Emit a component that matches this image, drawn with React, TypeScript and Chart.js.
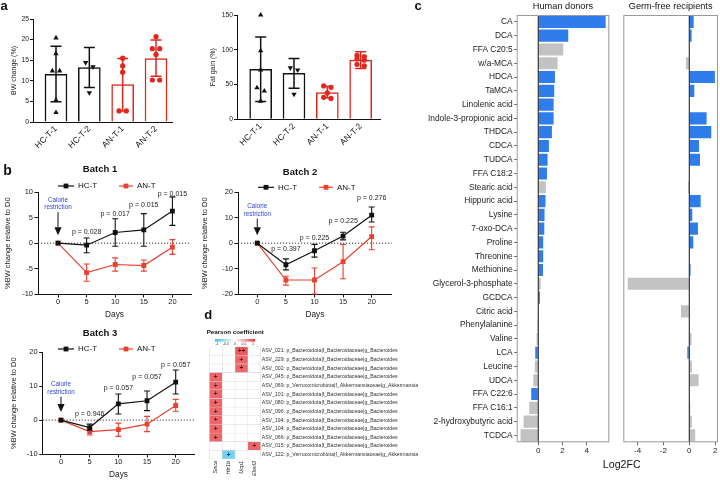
import React, { useEffect, useRef } from 'react';
import { Chart, registerables } from 'chart.js';

Chart.register(...registerables);

const FF = '"Liberation Sans", Arial, Helvetica, sans-serif';
Chart.defaults.font.family = FF;
Chart.defaults.color = '#222';

const BLACK = '#111111';
const RED_A = '#E2261C';
const RED_B = '#E8412F';
const BLUE_C = '#2E7DEB';
const GREY_C = '#C2C2C2';

// ---------------- Panel a data ----------------
const groupsA = ['HC-T-1', 'HC-T-2', 'AN-T-1', 'AN-T-2'];
const bwMean = [11.6, 13.2, 9.1, 15.4];
const bwSdLow = [4.9, 8.4, 2.7, 11.1];
const bwSdHigh = [18.4, 18.1, 15.4, 19.9];
const bwPtsHC1 = [20.4, 16.6, 12.4, 12.4, 5.3, 2.3];
const bwPtsHC2 = [14.4, 13.4, 7.1];
const bwPtsAN1 = [15.5, 13.6, 12.1, 2.7, 2.7];
const bwPtsAN2 = [20.7, 17.8, 17.8, 16.4, 10.2, 10.2];
const fatMean = [71.8, 66.0, 38.5, 85.0];
const fatSdLow = [25.5, 44.5, 31.0, 73.0];
const fatSdHigh = [118.5, 87.5, 47.5, 97.0];
const fatPtsHC1 = [150, 98.6, 71, 45.4, 40.7, 26];
const fatPtsHC2 = [74, 71, 36];
const fatPtsAN1 = [48, 46, 38, 31.6, 30];
const fatPtsAN2 = [92, 90, 87, 85, 79, 77];

// ---------------- Panel b data ----------------
const days = [0, 5, 10, 15, 20];
const pDays = [5, 10, 15, 20];
const b1HC = [0, -0.4, 2.1, 2.6, 6.3];
const b1HCLow = [0, -1.9, -0.6, -0.6, 3.5];
const b1HCHigh = [0, 1.0, 4.8, 5.8, 9.1];
const b1AN = [0, -5.8, -4.2, -4.4, -0.8];
const b1ANLow = [0, -7.5, -5.5, -5.5, -2.2];
const b1ANHigh = [0, -4.1, -2.9, -3.3, 0.7];
const b1PText = ['p = 0.028', 'p = 0.017', 'p = 0.015', 'p = 0.015'];
const b1PY = [2.2, 5.8, 7.5, 9.7];

const b2HC = [0, -8.5, -3.0, 2.8, 11.0];
const b2HCLow = [0, -10.5, -5.5, 1.3, 8.3];
const b2HCHigh = [0, -6.2, -0.5, 4.3, 14.2];
const b2AN = [0, -14.5, -14.5, -7.3, 2.6];
const b2ANLow = [0, -16.5, -20.0, -14.0, -2.6];
const b2ANHigh = [0, -13.0, -9.8, -0.5, 6.4];
const b2PText = ['p = 0.397', 'p = 0.225', 'p = 0.225', 'p = 0.276'];
const b2PY = [-2.5, 2.1, 8.7, 17.6];

const b3HC = [0, -2.2, 4.8, 5.7, 11.2];
const b3HCLow = [0, -3.0, 1.8, 2.8, 7.7];
const b3HCHigh = [0, -1.2, 7.7, 8.6, 14.8];
const b3AN = [0, -3.4, -2.8, -1.2, 4.3];
const b3ANLow = [0, -4.4, -4.8, -3.4, 2.6];
const b3ANHigh = [0, -2.4, -0.9, 1.1, 6.1];
const b3PText = ['p = 0.946', 'p = 0.057', 'p = 0.057', 'p = 0.057'];
const b3PY = [1.8, 9.4, 12.6, 16.3];

// ---------------- Panel c data ----------------
const metabolites = [
  'CA', 'DCA', 'FFA C20:5', 'w/a-MCA', 'HDCA', 'TaMCA', 'Linolenic acid',
  'Indole-3-propionic acid', 'THDCA', 'CDCA', 'TUDCA', 'FFA C18:2', 'Stearic acid',
  'Hippuric acid', 'Lysine', '7-oxo-DCA', 'Proline', 'Threonine', 'Methionine',
  'Glycerol-3-phosphate', 'GCDCA', 'Citric acid', 'Phenylalanine', 'Valine', 'LCA',
  'Leucine', 'UDCA', 'FFA C22:6', 'FFA C16:1', '2-hydroxybutyric acid', 'TCDCA',
];
const humanLog2FC = [
  5.57, 2.48, 2.07, 1.6, 1.38, 1.32, 1.27, 1.27, 1.13, 0.88, 0.77, 0.72, 0.63,
  0.6, 0.52, 0.5, 0.41, 0.41, 0.39, 0.2, 0.14, 0.02, -0.08, -0.14, -0.25,
  -0.28, -0.41, -0.58, -0.74, -1.21, -1.46,
];
const humanSig = [
  1, 1, 0, 0, 1, 1, 1, 1, 1, 1, 1, 1, 0, 1, 1, 1, 1, 1, 1, 0, 1, 0, 0, 0, 1,
  0, 0, 1, 0, 0, 0,
];
const germFreeLog2FC = [
  0.34, 0.18, 0.0, -0.26, 1.98, 0.39, 0.05, 1.34, 1.7, 0.75, 0.83, 0.02, -0.1,
  0.88, 0.23, 0.67, 0.31, 0.02, 0.1, -4.76, 0.02, -0.64, 0.05, 0.18, -0.15,
  0.2, 0.72, 0.03, 0.08, 0.2, 0.46,
];
const germFreeSig = [
  1, 1, 0, 0, 1, 1, 1, 1, 1, 1, 1, 0, 0, 1, 1, 1, 1, 0, 1, 0, 0, 0, 0, 0, 1,
  0, 0, 0, 0, 0, 0,
];

// ---------------- Panel d data ----------------
const genes = ['Snca', 'Htr1b', 'Ucp1', 'Elovl3'];
const asvLabels = [
  'ASV_021: p_Bacteroidota|f_Bacteroidaceae|g_Bacteroides',
  'ASV_229: p_Bacteroidota|f_Bacteroidaceae|g_Bacteroides',
  'ASV_002: p_Bacteroidota|f_Bacteroidaceae|g_Bacteroides',
  'ASV_045: p_Bacteroidota|f_Bacteroidaceae|g_Bacteroides',
  'ASV_069: p_Verrucomicrobiota|f_Akkermansiaceae|g_Akkermansia',
  'ASV_101: p_Bacteroidota|f_Bacteroidaceae|g_Bacteroides',
  'ASV_080: p_Bacteroidota|f_Bacteroidaceae|g_Bacteroides',
  'ASV_096: p_Bacteroidota|f_Bacteroidaceae|g_Bacteroides',
  'ASV_194: p_Bacteroidota|f_Bacteroidaceae|g_Bacteroides',
  'ASV_104: p_Bacteroidota|f_Bacteroidaceae|g_Bacteroides',
  'ASV_066: p_Bacteroidota|f_Bacteroidaceae|g_Bacteroides',
  'ASV_015: p_Bacteroidota|f_Bacteroidaceae|g_Bacteroides',
  'ASV_122: p_Verrucomicrobiota|f_Akkermansiaceae|g_Akkermansia',
];
const pearson = [
  [0, 0, 0.82, 0], [0, 0, 0.76, 0], [0, 0, 0.76, 0],
  [0.76, 0, 0, 0], [0.76, 0, 0, 0], [0.76, 0, 0, 0], [0.76, 0, 0, 0],
  [0.76, 0, 0, 0], [0.76, 0, 0, 0], [0.76, 0, 0, 0], [0.76, 0, 0, 0],
  [0, 0, 0, 0.76], [0, -0.7, 0, 0],
];
const signif = [
  ['', '', '++', ''], ['', '', '+', ''], ['', '', '+', ''],
  ['+', '', '', ''], ['+', '', '', ''], ['+', '', '', ''], ['+', '', '', ''],
  ['+', '', '', ''], ['+', '', '', ''], ['+', '', '', ''], ['+', '', '', ''],
  ['', '', '', '+'], ['', '+', '', ''],
];
const colorbarTicks = ['-1', '-0.5', '0', '0.5', '1'];

// ---------------- helpers ----------------
type TextItem = { text: string; x: number; y: number; font: string; color?: string; align?: CanvasTextAlign };

function textPlugin(items: TextItem[]) {
  return {
    id: 'extraText',
    afterDraw(chart: any) {
      const ctx = chart.ctx;
      items.forEach((it) => {
        ctx.save();
        ctx.font = it.font;
        ctx.fillStyle = it.color || '#111';
        ctx.textAlign = it.align || 'center';
        ctx.textBaseline = 'middle';
        ctx.fillText(it.text, it.x, it.y);
        ctx.restore();
      });
    },
  };
}

function drawErr(chart: any, index: number, meta: any) {
  const ds = chart.data.datasets[index];
  if (!ds.errLow) return;
  const y = chart.scales[meta.yAxisID];
  const ctx = chart.ctx;
  const cap = ds.errCap || 6;
  ctx.save();
  ctx.lineWidth = ds.errWidth || 1.1;
  meta.data.forEach((el: any, i: number) => {
    const lo = ds.errLow[i];
    const hi = ds.errHigh[i];
    if (lo === hi) return;
    const col = Array.isArray(ds.errColor) ? ds.errColor[i] : ds.errColor;
    ctx.strokeStyle = col;
    const x = el.x;
    const yl = y.getPixelForValue(lo);
    const yh = y.getPixelForValue(hi);
    ctx.beginPath();
    ctx.moveTo(x, yl); ctx.lineTo(x, yh);
    ctx.moveTo(x - cap / 2, yl); ctx.lineTo(x + cap / 2, yl);
    ctx.moveTo(x - cap / 2, yh); ctx.lineTo(x + cap / 2, yh);
    ctx.stroke();
  });
  ctx.restore();
}

const errorBars = {
  id: 'errorBars',
  beforeDatasetDraw(chart: any, args: any) {
    const ds = chart.data.datasets[args.index];
    if (ds.errLow && !ds.errOnTop) drawErr(chart, args.index, args.meta);
  },
  afterDatasetDraw(chart: any, args: any) {
    const ds = chart.data.datasets[args.index];
    if (ds.errLow && ds.errOnTop) drawErr(chart, args.index, args.meta);
  },
};

function jitterPairs(vals: number[], tol: number, step: number) {
  const idx = vals.map((_, i) => i).sort((a, b) => vals[b] - vals[a]);
  const off = vals.map(() => 0);
  for (let k = 0; k < idx.length; k++) {
    const a = idx[k];
    const b = idx[k + 1];
    if (b !== undefined && Math.abs(vals[a] - vals[b]) < tol) {
      off[a] = -step;
      off[b] = step;
      k++;
    }
  }
  return off;
}

function ChartCanvas({ left, top, width, height, make }: { left: number; top: number; width: number; height: number; make: () => any }) {
  const ref = useRef<HTMLCanvasElement>(null);
  useEffect(() => {
    const chart = new Chart(ref.current as HTMLCanvasElement, make());
    return () => chart.destroy();
  }, []);
  return (
    <canvas
      ref={ref}
      width={width}
      height={height}
      style={{ position: 'absolute', left, top, width, height }}
    />
  );
}

// ---------------- Panel a ----------------
function barPanel(o: any) {
  const colors = [BLACK, BLACK, RED_A, RED_A];
  const pts = [o.p1, o.p2, o.p3, o.p4];
  const ptSets = pts.map((arr: number[], g: number) => {
    const off = jitterPairs(arr, o.tol, 0.11);
    return {
      type: 'scatter',
      data: arr.map((v, i) => ({ x: g + off[i], y: v })),
      pointStyle: g < 2 ? 'triangle' : 'circle',
      pointRotation: g === 1 ? 180 : 0,
      pointRadius: g < 2 ? 3.1 : 2.6,
      backgroundColor: colors[g],
      borderColor: colors[g],
      borderWidth: 0,
      clip: false,
      order: 0,
    };
  });
  return {
    type: 'bar',
    data: {
      datasets: [
        ...ptSets,
        {
          type: 'bar',
          data: o.mean.map((m: number, g: number) => ({ x: g, y: m })),
          backgroundColor: '#ffffff',
          borderColor: colors,
          borderWidth: 1.5,
          barThickness: 22,
          errLow: o.lo,
          errHigh: o.hi,
          errColor: colors,
          errCap: 11,
          errWidth: 1.5,
          errOnTop: true,
          clip: false,
          order: 1,
        },
      ],
    },
    options: {
      animation: false,
      responsive: false,
      events: [],
      layout: { padding: { top: o.padTop, right: o.padRight, left: 0, bottom: 0 } },
      plugins: { legend: { display: false }, tooltip: { enabled: false } },
      scales: {
        x: {
          type: 'linear',
          offset: false,
          min: o.xMin,
          max: o.xMax,
          afterBuildTicks: (s: any) => { s.ticks = groupsA.map((_, i) => ({ value: i })); },
          afterFit: (s: any) => { s.height = o.xH; },
          ticks: {
            callback: (v: any) => groupsA[v] ?? '',
            minRotation: 45, maxRotation: 45, autoSkip: false,
            font: { size: 8.5 }, color: '#111', padding: 2,
          },
          grid: { display: false, drawTicks: false, offset: false },
          border: { display: true, color: BLACK, width: 1 },
        },
        y: {
          min: 0,
          max: o.yMax,
          afterFit: (s: any) => { s.width = o.yW; },
          ticks: { stepSize: o.yStep, font: { size: 6.8 }, color: '#222', padding: 1 },
          grid: { drawOnChartArea: false, drawTicks: true, tickLength: 3, color: BLACK },
          border: { color: BLACK, width: 1 },
          title: { display: true, text: o.yTitle, font: { size: 7 }, color: '#222', padding: { top: o.titlePad, bottom: 0 } },
        },
      },
    },
    plugins: [errorBars, textPlugin(o.texts || [])],
  };
}

const makeBW = () => barPanel({
  mean: bwMean, lo: bwSdLow, hi: bwSdHigh, p1: bwPtsHC1, p2: bwPtsHC2, p3: bwPtsAN1, p4: bwPtsAN2,
  tol: 1.2, yMax: 25, yStep: 5, yTitle: 'BW change (%)', padTop: 19, padRight: 8, xH: 43, yW: 33,
  xMin: -0.69, xMax: 3.48, titlePad: 10.3,
  texts: [{ text: 'a', x: 4, y: 6, font: `bold 13px ${FF}` }],
});

const makeFat = () => barPanel({
  mean: fatMean, lo: fatSdLow, hi: fatSdHigh, p1: fatPtsHC1, p2: fatPtsHC2, p3: fatPtsAN1, p4: fatPtsAN2,
  tol: 6, yMax: 150, yStep: 50, yTitle: 'Fat gain (%)', padTop: 15, padRight: 6, xH: 45.7, yW: 41,
  xMin: -0.71, xMax: 3.58, titlePad: 13.3,
});

// ---------------- Panel b ----------------
function legendItem(ctx: any, x1: number, x2: number, tx: number, y: number, col: string, label: string) {
  ctx.strokeStyle = col;
  ctx.fillStyle = col;
  ctx.lineWidth = 1.2;
  ctx.beginPath(); ctx.moveTo(x1, y); ctx.lineTo(x2, y); ctx.stroke();
  const m = (x1 + x2) / 2;
  ctx.fillRect(m - 2.4, y - 2.4, 4.8, 4.8);
  ctx.fillStyle = '#111';
  ctx.textAlign = 'left';
  ctx.font = `8px ${FF}`;
  ctx.fillText(label, tx, y);
}

function batchDecor(spec: any) {
  return {
    id: 'batchDecor',
    beforeDatasetsDraw(chart: any) {
      const { ctx, chartArea, scales } = chart;
      const y0 = scales.y.getPixelForValue(0);
      ctx.save();
      ctx.strokeStyle = '#333';
      ctx.lineWidth = 1;
      ctx.setLineDash([1.2, 1.8]);
      ctx.beginPath();
      ctx.moveTo(chartArea.left, y0);
      ctx.lineTo(chartArea.right, y0);
      ctx.stroke();
      ctx.restore();
    },
    afterDraw(chart: any) {
      const { ctx, scales } = chart;
      const x = scales.x;
      const y = scales.y;
      ctx.save();
      ctx.textBaseline = 'middle';
      ctx.textAlign = 'center';
      ctx.fillStyle = '#111';
      ctx.font = `bold 9.5px ${FF}`;
      ctx.fillText(spec.title, chart.width / 2, spec.titleY);
      legendItem(ctx, 58, 74, 78, spec.legendY, BLACK, 'HC-T');
      legendItem(ctx, 119, 133, 137, spec.legendY, RED_B, 'AN-T');
      const x0 = x.getPixelForValue(0);
      const y0 = y.getPixelForValue(0);
      ctx.textAlign = 'center';
      ctx.fillStyle = '#3346d3';
      ctx.font = `6.3px ${FF}`;
      ctx.fillText('Calorie', x0, y0 - spec.calA);
      ctx.fillText('restriction', x0, y0 - spec.calA + 7.5);
      ctx.strokeStyle = '#111';
      ctx.fillStyle = '#111';
      ctx.lineWidth = 1;
      const headTop = y0 - 16;
      ctx.beginPath(); ctx.moveTo(x0, y0 - spec.calA + 12); ctx.lineTo(x0, headTop); ctx.stroke();
      ctx.beginPath(); ctx.moveTo(x0 - 3.6, headTop); ctx.lineTo(x0 + 3.6, headTop); ctx.lineTo(x0, y0 - 8); ctx.closePath(); ctx.fill();
      ctx.fillStyle = '#222';
      ctx.font = `7px ${FF}`;
      pDays.forEach((d, i) => ctx.fillText(spec.pText[i], x.getPixelForValue(d), y.getPixelForValue(spec.pY[i])));
      ctx.restore();
    },
  };
}

function batchPanel(s: any) {
  const mk = (vals: number[]) => days.map((d, i) => ({ x: d, y: vals[i] }));
  return {
    type: 'line',
    data: {
      datasets: [
        {
          label: 'HC-T', data: mk(s.hc), borderColor: BLACK, backgroundColor: BLACK,
          pointStyle: 'rect', pointRadius: 3.4, pointBorderWidth: 0, borderWidth: 1.2,
          errLow: s.hcLo, errHigh: s.hcHi, errColor: BLACK, errCap: 6, errWidth: 1.1,
        },
        {
          label: 'AN-T', data: mk(s.an), borderColor: RED_B, backgroundColor: RED_B,
          pointStyle: 'rect', pointRadius: 3.4, pointBorderWidth: 0, borderWidth: 1.2,
          errLow: s.anLo, errHigh: s.anHi, errColor: RED_B, errCap: 6, errWidth: 1.1,
        },
      ],
    },
    options: {
      animation: false,
      responsive: false,
      events: [],
      layout: { padding: { top: s.padTop, right: s.padRight, left: 0, bottom: 0 } },
      plugins: { legend: { display: false }, tooltip: { enabled: false } },
      scales: {
        x: {
          type: 'linear',
          min: s.xMin,
          max: s.xMax,
          afterBuildTicks: (sc: any) => { sc.ticks = days.map((v) => ({ value: v })); },
          afterFit: (sc: any) => { sc.height = 26; },
          ticks: { font: { size: 7.5 }, color: '#222', padding: 0 },
          grid: { drawOnChartArea: false, drawTicks: true, tickLength: 3.5, color: BLACK },
          border: { color: BLACK, width: 1 },
          title: { display: true, text: 'Days', font: { size: 8.3 }, color: '#222', padding: 0 },
        },
        y: {
          min: s.yMin,
          max: s.yMax,
          afterFit: (sc: any) => { sc.width = s.yW; },
          ticks: { stepSize: s.yStep, font: { size: 7.5 }, color: '#222', padding: 1.5 },
          grid: { drawOnChartArea: false, drawTicks: true, tickLength: 3.5, color: BLACK },
          border: { color: BLACK, width: 1 },
          title: {
            display: true, text: '%BW change relative to D0', font: { size: 7.5 }, color: '#222',
            padding: { top: s.titlePad, bottom: 0 },
          },
        },
      },
    },
    plugins: [errorBars, batchDecor(s), textPlugin(s.texts || [])],
  };
}

const makeB1 = () => batchPanel({
  hc: b1HC, hcLo: b1HCLow, hcHi: b1HCHigh, an: b1AN, anLo: b1ANLow, anHi: b1ANHigh,
  pText: b1PText, pY: b1PY, title: 'Batch 1', titleY: 9.3, legendY: 26, calA: 43,
  yMin: -10, yMax: 10, yStep: 5, yW: 38, padTop: 32.3, padRight: 9, xMin: -3.5, xMax: 23.25, titlePad: 3.3,
  texts: [{ text: 'b', x: 7.5, y: 11, font: `bold 14px ${FF}` }],
});
const makeB2 = () => batchPanel({
  hc: b2HC, hcLo: b2HCLow, hcHi: b2HCHigh, an: b2AN, anLo: b2ANLow, anHi: b2ANHigh,
  pText: b2PText, pY: b2PY, title: 'Batch 2', titleY: 12.3, legendY: 27.3, calA: 36.5,
  yMin: -20, yMax: 20, yStep: 10, yW: 38, padTop: 32.3, padRight: 8.3, xMin: -3.37, xMax: 23.5, titlePad: 0.5,
  texts: [{ text: 'd', x: 8.3, y: 155.5, font: `bold 13px ${FF}` }],
});
const makeB3 = () => batchPanel({
  hc: b3HC, hcLo: b3HCLow, hcHi: b3HCHigh, an: b3AN, anLo: b3ANLow, anHi: b3ANHigh,
  pText: b3PText, pY: b3PY, title: 'Batch 3', titleY: 13, legendY: 29, calA: 35.5,
  yMin: -10, yMax: 20, yStep: 10, yW: 42.7, padTop: 32.3, padRight: 5.7, xMin: -3.19, xMax: 23.24, titlePad: 9.3,
});

// ---------------- Panel c ----------------
function boxZeroPlugin(title: string) {
  return {
    id: 'boxZero',
    afterDatasetsDraw(chart: any) {
      const { ctx, chartArea, scales } = chart;
      const x0 = scales.x.getPixelForValue(0);
      ctx.save();
      ctx.strokeStyle = '#111';
      ctx.lineWidth = 1;
      ctx.beginPath();
      ctx.moveTo(x0, chartArea.top);
      ctx.lineTo(x0, chartArea.bottom);
      ctx.stroke();
      ctx.strokeStyle = '#9a9a9a';
      ctx.strokeRect(chartArea.left + 0.5, chartArea.top + 0.5, chartArea.width - 1, chartArea.height - 1);
      ctx.fillStyle = '#111';
      ctx.font = `9.2px ${FF}`;
      ctx.textAlign = 'center';
      ctx.textBaseline = 'middle';
      ctx.fillText(title, (chartArea.left + chartArea.right) / 2, 6);
      ctx.restore();
    },
  };
}

function hbarPanel(o: any) {
  return {
    type: 'bar',
    data: {
      labels: metabolites,
      datasets: [
        {
          data: o.values,
          backgroundColor: o.sig.map((s: number) => (s ? BLUE_C : GREY_C)),
          borderWidth: 0,
          barPercentage: 0.88,
          categoryPercentage: 1,
        },
      ],
    },
    options: {
      indexAxis: 'y',
      animation: false,
      responsive: false,
      events: [],
      layout: { padding: { top: 15, right: o.padRight, left: 0, bottom: 0 } },
      plugins: { legend: { display: false }, tooltip: { enabled: false } },
      scales: {
        x: {
          type: 'linear',
          min: o.xMin,
          max: o.xMax,
          afterBuildTicks: (s: any) => { s.ticks = o.ticks.map((v: number) => ({ value: v })); },
          afterFit: (s: any) => { s.height = 37.7; },
          ticks: { font: { size: 8 }, color: '#222', padding: 1 },
          grid: { color: 'rgba(0,0,0,0)', tickColor: '#666', drawTicks: true, tickLength: 3 },
          border: { display: false },
        },
        y: {
          afterFit: (s: any) => { s.width = o.yW; },
          ticks: { display: o.showLabels, autoSkip: false, font: { size: 8.4 }, color: '#222', padding: 1.5 },
          grid: { display: o.showLabels, drawOnChartArea: false, drawTicks: true, tickLength: 2.5, color: '#666', offset: false },
          border: { display: false },
        },
      },
    },
    plugins: [boxZeroPlugin(o.title), textPlugin(o.texts || [])],
  };
}

const makeHuman = () => hbarPanel({
  values: humanLog2FC, sig: humanSig, xMin: -1.78, xMax: 5.87, ticks: [0, 2, 4],
  yW: 116.7, padRight: 2.7, showLabels: true, title: 'Human donors',
  texts: [{ text: 'c', x: 18, y: 6, font: `bold 13px ${FF}` }],
});
const makeGermFree = () => hbarPanel({
  values: germFreeLog2FC, sig: germFreeSig, xMin: -5.1, xMax: 2.22, ticks: [-4, -2, 0, 2],
  yW: 33.3, padRight: 2, showLabels: false, title: 'Germ-free recipients',
  texts: [{ text: 'Log2FC', x: 31.7, y: 465, font: `10.6px ${FF}` }],
});

// ---------------- Panel d ----------------
function heatColor(v: number) {
  if (v >= 0) {
    const t = Math.min(v, 1);
    return `rgb(${Math.round(255 - t * 25)},${Math.round(255 - t * 200)},${Math.round(255 - t * 195)})`;
  }
  const t = Math.min(-v, 1);
  return `rgb(${Math.round(255 - t * 195)},${Math.round(255 - t * 65)},${Math.round(255 - t * 20)})`;
}

const heatDecor = {
  id: 'heatDecor',
  afterDatasetsDraw(chart: any) {
    const { ctx, scales } = chart;
    ctx.save();
    ctx.textAlign = 'center';
    ctx.textBaseline = 'middle';
    ctx.font = `bold 6.5px ${FF}`;
    signif.forEach((row, r) => row.forEach((s, c) => {
      if (!s) return;
      ctx.fillStyle = pearson[r][c] < 0 ? '#0b3a66' : '#5a1010';
      ctx.fillText(s, scales.x.getPixelForValue(c + 0.5), scales.y.getPixelForValue(r) + 0.3);
    }));
    ctx.textAlign = 'left';
    ctx.fillStyle = '#111';
    ctx.font = `bold 6.2px ${FF}`;
    ctx.fillText('Pearson coefficient', 6.7, 12.5);
    const gx = 15, gw = 40, gy = 19, gh = 2.6;
    const grad = ctx.createLinearGradient(gx, 0, gx + gw, 0);
    grad.addColorStop(0, heatColor(-1));
    grad.addColorStop(0.25, heatColor(-0.5));
    grad.addColorStop(0.5, heatColor(0));
    grad.addColorStop(0.75, heatColor(0.5));
    grad.addColorStop(1, heatColor(1));
    ctx.fillStyle = grad;
    ctx.fillRect(gx, gy, gw, gh);
    ctx.fillStyle = '#333';
    ctx.font = `3.6px ${FF}`;
    ctx.textAlign = 'center';
    colorbarTicks.forEach((t, i) => ctx.fillText(t, gx + 2 + (i * (gw - 4)) / (colorbarTicks.length - 1), gy + gh + 2.4));
    ctx.restore();
  },
};

const makeHeat = () => ({
  type: 'bar',
  data: {
    labels: asvLabels,
    datasets: genes.map((_, c) => ({
      data: asvLabels.map(() => [c, c + 1]),
      backgroundColor: asvLabels.map((__, r) => heatColor(pearson[r][c])),
      borderColor: '#d6d6d6',
      borderWidth: 0.5,
      borderSkipped: false,
      grouped: false,
      barPercentage: 1,
      categoryPercentage: 1,
    })),
  },
  options: {
    indexAxis: 'y',
    animation: false,
    responsive: false,
    events: [],
    layout: { padding: { top: 26.7, left: 9.3, right: 0, bottom: 0 } },
    plugins: { legend: { display: false }, tooltip: { enabled: false } },
    scales: {
      x: {
        type: 'linear',
        min: 0,
        max: genes.length,
        afterBuildTicks: (s: any) => { s.ticks = genes.map((_, i) => ({ value: i + 0.5 })); },
        afterFit: (s: any) => { s.height = 21; },
        ticks: {
          callback: (v: any) => genes[Math.floor(v)] ?? '',
          minRotation: 90, maxRotation: 90, autoSkip: false,
          font: { size: 5.5, style: 'italic' }, color: '#222', padding: 2,
        },
        grid: { display: false, drawTicks: false },
        border: { display: false },
      },
      y: {
        position: 'right',
        afterFit: (s: any) => { s.width = 169.3; },
        ticks: { autoSkip: false, font: { size: 5.2 }, color: '#333', padding: 1 },
        grid: { display: false, drawTicks: false },
        border: { display: false },
      },
    },
  },
  plugins: [heatDecor],
});

export default function App() {
  return (
    <div style={{ position: 'absolute', left: 0, top: 0, width: 720, height: 480, background: '#ffffff', overflow: 'hidden' }}>
      <ChartCanvas left={0} top={0} width={180} height={165} make={makeBW} />
      <ChartCanvas left={196} top={0} width={190} height={165} make={makeFat} />
      <ChartCanvas left={0} top={160} width={200} height={160} make={makeB1} />
      <ChartCanvas left={200} top={160} width={200} height={160} make={makeB2} />
      <ChartCanvas left={0} top={320} width={200} height={160} make={makeB3} />
      <ChartCanvas left={200} top={320} width={230} height={160} make={makeHeat} />
      <ChartCanvas left={400} top={0} width={212} height={480} make={makeHuman} />
      <ChartCanvas left={590} top={0} width={130} height={480} make={makeGermFree} />
    </div>
  );
}
